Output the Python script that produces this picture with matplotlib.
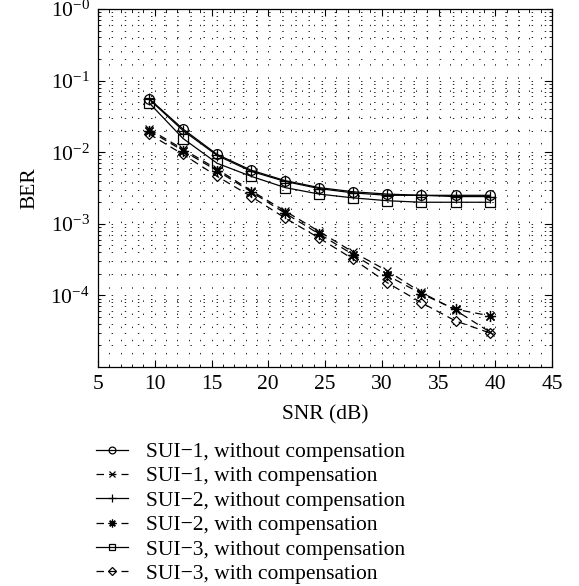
import numpy as np
import matplotlib as mpl
mpl.use("Agg")
import matplotlib.pyplot as plt
from matplotlib.ticker import LogLocator, MultipleLocator, FixedLocator, FixedFormatter, NullFormatter

mpl.rcParams.update({
    "font.family": "serif",
    "font.serif": ["Liberation Serif", "DejaVu Serif"],
    "mathtext.fontset": "custom",
    "mathtext.rm": "Liberation Serif",
    "mathtext.it": "Liberation Serif:italic",
    "font.size": 15.5,
    "axes.linewidth": 0.9,
    "xtick.direction": "in", "ytick.direction": "in",
    "xtick.top": True, "ytick.right": True,
})

# ---- data -----------------------------------------------------------------
snr = [9.5, 12.5, 15.5, 18.5, 21.5, 24.5, 27.5, 30.5, 33.5, 36.5, 39.5]
sui1_wo = [0.056, 0.021, 0.0093, 0.0056, 0.0040, 0.0032, 0.0028, 0.0026, 0.0025, 0.0025, 0.0025]
sui1_w  = [0.021, 0.011, 0.0058, 0.0029, 0.0015, 0.00078, 0.00040, 0.00022, 0.00011, 0.000062, 0.000031]
sui2_wo = [0.055, 0.020, 0.0090, 0.0054, 0.0039, 0.0031, 0.0027, 0.0025, 0.0025, 0.0024, 0.0024]
sui2_w  = [0.020, 0.0105, 0.0055, 0.0028, 0.0014, 0.00072, 0.00037, 0.00019, 0.000105, 0.000064, 0.000052]
sui3_wo = [0.049, 0.0155, 0.0070, 0.0046, 0.0032, 0.0026, 0.0023, 0.0021, 0.0020, 0.0020, 0.0020]
sui3_w  = [0.018, 0.0093, 0.0046, 0.0024, 0.0012, 0.00063, 0.00032, 0.00015, 0.000079, 0.000044, 0.000030]

labels = [
    "SUI\u22121, without compensation",
    "SUI\u22121, with compensation",
    "SUI\u22122, without compensation",
    "SUI\u22122, with compensation",
    "SUI\u22123, without compensation",
    "SUI\u22123, with compensation",
]
series = [sui1_wo, sui1_w, sui2_wo, sui2_w, sui3_wo, sui3_w]
markers = ["o", "x", "+", (8, 2, 0), "s", "D"]
sizes = [7, 6, 8, 8, 6.5, 5.5]
DASH = (0, (6, 4))
styles = ["-", DASH, "-", DASH, "-", DASH]

fig = plt.figure(figsize=(5.79, 5.86), dpi=100)
ax = fig.add_axes([98/579, 1 - 367/586, (552 - 98)/579, (367 - 9)/586])

for ys, mk, ms, ls, lab in zip(series, markers, sizes, styles, labels):
    ax.plot(snr, ys, linestyle=ls, color="black", lw=0.9, marker=mk, ms=ms,
            mfc="none", mec="black", mew=0.9, label=lab)

ax.set_yscale("log")
ax.set_xlim(5, 45)
ax.set_ylim(1e-5, 1)
ax.xaxis.set_major_locator(MultipleLocator(5))
ax.xaxis.set_minor_locator(MultipleLocator(1))
ax.yaxis.set_major_locator(FixedLocator([1e-4, 1e-3, 1e-2, 1e-1, 1]))
ax.yaxis.set_major_formatter(FixedFormatter([r"$10^{-4}$", r"$10^{-3}$", r"$10^{-2}$",
                                             r"$10^{-1}$", r"$10^{-0}$"]))
ax.yaxis.set_minor_locator(LogLocator(base=10, subs=np.arange(2, 10), numticks=20))
ax.yaxis.set_minor_formatter(NullFormatter())
ax.tick_params(which="major", length=5, width=0.8, pad=6)
ax.tick_params(which="minor", length=2.5, width=0.6)
ax.grid(True, which="both", ls=(0, (1.5, 12)), color="black", lw=0.7, alpha=0.85)

ax.set_xlabel("SNR (dB)", labelpad=8)
ax.set_ylabel("BER", labelpad=8)

fig.legend(loc="upper left", bbox_to_anchor=(96/579, 1 - 442/586), frameon=False,
           handlelength=1.5, handletextpad=0.8, labelspacing=0.2, markerscale=0.7,
           borderpad=0, borderaxespad=0)

fig.savefig("out.png", dpi=100)
